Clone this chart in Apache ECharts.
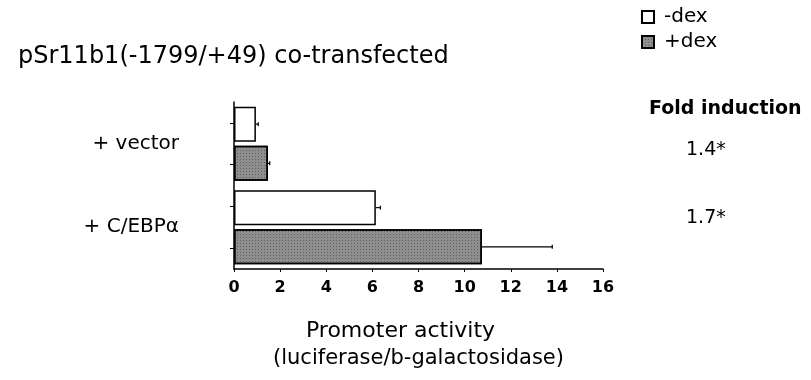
<!DOCTYPE html>
<html>
<head>
<meta charset="utf-8">
<script src="https://cdn.jsdelivr.net/npm/echarts@6/dist/echarts.min.js"></script>
<style>
  html, body { margin: 0; padding: 0; background: #fff; }
  #chart { width: 811px; height: 380px; }
</style>
</head>
<body>
<div id="chart"></div>
<script>
// Constructs (rows of the bar chart)
const constructs = ['+ vector', '+ C/EBP\u03b1'];
// Promoter activity, luciferase / b-galactosidase
const minusDex = [0.95, 6.15];
const plusDex = [1.47, 10.75];
// Upper end of each error bar
const minusDexErrTop = [1.05, 6.35];
const plusDexErrTop = [1.55, 13.8];
// Fold induction printed at the right of each row
const foldInduction = ['1.4*', '1.7*'];
// Value axis ticks
const xTicks = [0, 2, 4, 6, 8, 10, 12, 14, 16];
// One tick per bar on the category side
const barSlots = ['', '', '', ''];

const FONT = '"DejaVu Sans", sans-serif';
const BAR_W = 35;
const BAR_GAP = 0.12;

function errorSeries(name, values, tops, sign) {
  return {
    type: 'custom',
    name: name + ' err',
    xAxisIndex: 0,
    yAxisIndex: 0,
    z: 1,
    silent: true,
    data: values.map((v, i) => [i, v, tops[i]]),
    renderItem: function (params, api) {
      const cat = api.value(0);
      const p0 = api.coord([api.value(1), cat]);
      const p1 = api.coord([api.value(2), cat]);
      const off = sign * (BAR_W * (1 + BAR_GAP)) / 2;
      const y = p0[1] + off;
      return {
        type: 'group',
        children: [
          { type: 'line', shape: { x1: p0[0], y1: y, x2: p1[0], y2: y },
            style: { stroke: '#000', lineWidth: 1.2 } },
          { type: 'line', shape: { x1: p1[0], y1: y - 2, x2: p1[0], y2: y + 2 },
            style: { stroke: '#000', lineWidth: 1.2 } }
        ]
      };
    },
    encode: { x: [1, 2], y: 0 }
  };
}

// Stippled grey fill for the +dex bars
const stipple = {
  symbol: 'rect', symbolSize: 1,
  dashArrayX: [1, 2], dashArrayY: [1, 2],
  color: 'rgba(60,60,60,0.55)'
};

const chart = echarts.init(document.getElementById('chart'));
chart.setOption({
  animation: false,
  backgroundColor: '#fff',
  title: [
    { text: 'pSr11b1(-1799/+49) co-transfected', left: 13, top: 40,
      textStyle: { fontFamily: FONT, fontSize: 24, fontWeight: 'normal', color: '#000' } },
    { text: 'Fold induction', left: 644, top: 95,
      textStyle: { fontFamily: FONT, fontSize: 19, fontWeight: 'bold', color: '#000' } }
  ],
  legend: {
    orient: 'vertical',
    left: 636, top: 2,
    itemWidth: 12, itemHeight: 12, itemGap: 5,
    icon: 'rect',
    data: ['-dex', '+dex'],
    textStyle: { fontFamily: FONT, fontSize: 20, color: '#000', padding: [0, 0, 0, 5] }
  },
  grid: [
    { left: 234, right: 208, top: 102, bottom: 111, containLabel: false },
    { left: 684, right: 126, top: 150, bottom: 162, containLabel: false }
  ],
  xAxis: [
    {
      type: 'value', gridIndex: 0,
      min: xTicks[0], max: xTicks[xTicks.length - 1], interval: 2,
      splitLine: { show: false },
      axisLine: { show: true, lineStyle: { color: '#000', width: 1.5 } },
      axisTick: { show: true, length: 3, lineStyle: { color: '#000' } },
      axisLabel: { fontFamily: FONT, fontSize: 16, fontWeight: 'bold', color: '#000', margin: 11 },
      name: '{a|Promoter activity}\n{b|(luciferase/b-galactosidase)}',
      nameLocation: 'middle', nameGap: 49,
      nameTextStyle: {
        fontFamily: FONT, fontSize: 21, color: '#000', lineHeight: 27,
        rich: {
          a: { fontFamily: FONT, fontSize: 22, color: '#000', lineHeight: 27, padding: [0, 36, 0, 0] },
          b: { fontFamily: FONT, fontSize: 21, color: '#000', lineHeight: 27 }
        }
      }
    },
    { type: 'value', gridIndex: 1, show: false }
  ],
  yAxis: [
    {
      type: 'category', gridIndex: 0, data: constructs, inverse: true,
      axisLine: { show: true, lineStyle: { color: '#000', width: 1.5 } },
      axisTick: { show: false },
      axisLabel: { fontFamily: FONT, fontSize: 20, color: '#000', margin: 55 }
    },
    {
      type: 'category', gridIndex: 0, data: barSlots, inverse: true, position: 'left',
      axisLine: { show: false },
      axisTick: { show: true, alignWithLabel: true, length: 4, lineStyle: { color: '#000' } },
      axisLabel: { show: false }
    },
    {
      type: 'category', gridIndex: 1, data: foldInduction, inverse: true,
      position: 'right', boundaryGap: false,
      axisLine: { show: false }, axisTick: { show: false },
      axisLabel: { fontFamily: FONT, fontSize: 19, color: '#000', margin: 1, align: 'left' }
    }
  ],
  series: [
    {
      name: '-dex', type: 'bar', xAxisIndex: 0, yAxisIndex: 0, data: minusDex,
      barWidth: BAR_W, barGap: (BAR_GAP * 100) + '%', z: 2,
      itemStyle: { color: '#fff', borderColor: '#000', borderWidth: 1.5 }
    },
    {
      name: '+dex', type: 'bar', xAxisIndex: 0, yAxisIndex: 0, data: plusDex,
      barWidth: BAR_W, barGap: (BAR_GAP * 100) + '%', z: 2,
      itemStyle: { color: '#8e8e8e', borderColor: '#000', borderWidth: 1.5, decal: stipple }
    },
    errorSeries('-dex', minusDex, minusDexErrTop, -1),
    errorSeries('+dex', plusDex, plusDexErrTop, 1)
  ]
});
</script>
</body>
</html>
